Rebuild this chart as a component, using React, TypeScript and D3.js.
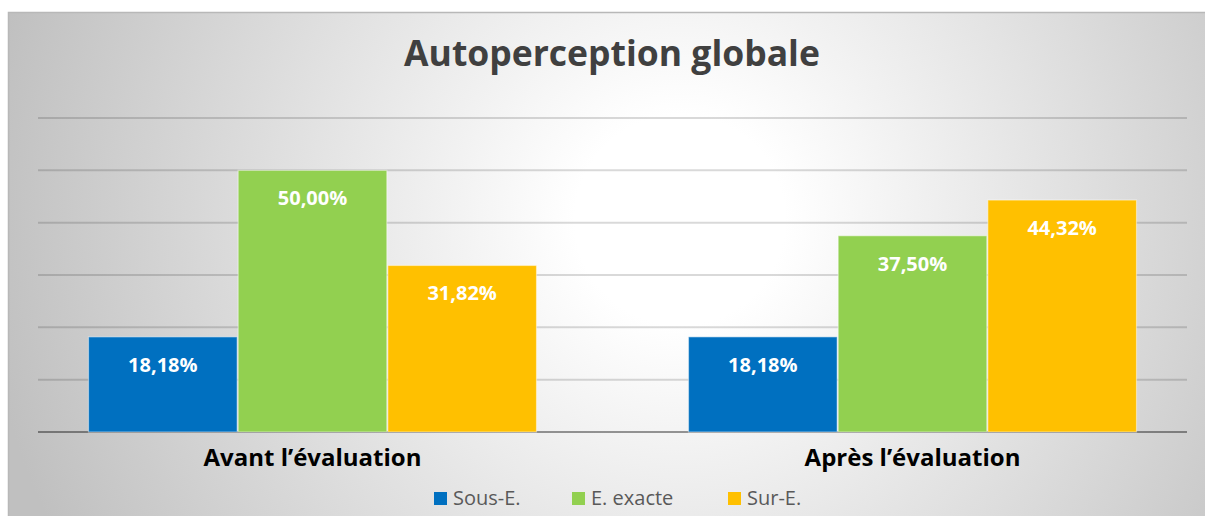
import React, { useEffect, useRef } from "react";
import * as d3 from "d3";

const categories = ["Avant l\u2019évaluation", "Après l\u2019évaluation"];
const seriesNames = ["Sous-E.", "E. exacte", "Sur-E."];
const seriesColors = ["#0070C0", "#92D050", "#FFC000"];
const sousE = [18.18, 18.18];
const eExacte = [50.0, 37.5];
const surE = [31.82, 44.32];
const yTicks = [0, 10, 20, 30, 40, 50, 60];

const W = 1205;
const H = 516;

export default function App() {
  const ref = useRef<SVGSVGElement>(null);

  useEffect(() => {
    const svg = d3.select(ref.current);
    svg.selectAll("*").remove();

    const font = "'Open Sans', 'Noto Sans', sans-serif";

    // background gradient like the office chart
    const defs = svg.append("defs");
    const grad = defs
      .append("radialGradient")
      .attr("id", "bg")
      .attr("gradientUnits", "userSpaceOnUse")
      .attr("cx", 680)
      .attr("cy", 220)
      .attr("r", 700);
    grad.append("stop").attr("offset", "0.15").attr("stop-color", "#ffffff");
    grad.append("stop").attr("offset", "1").attr("stop-color", "#c0c0c0");

    svg
      .append("rect")
      .attr("x", 8.5)
      .attr("y", 12.5)
      .attr("width", W)
      .attr("height", H)
      .attr("fill", "url(#bg)")
      .attr("stroke", "#b8b8b8")
      .attr("stroke-width", 1.5);

    const plotLeft = 38;
    const plotRight = 1187;

    const y = d3.scaleLinear().domain([0, 60]).range([432, 118]);

    const x0 = d3
      .scaleBand()
      .domain(categories)
      .range([12.5, 1212.5])
      .paddingInner(151 / 600)
      .paddingOuter(151 / 1200);

    const x1 = d3
      .scaleBand()
      .domain(seriesNames)
      .range([0, x0.bandwidth()])
      .padding(0);

    // gridlines
    svg
      .append("g")
      .selectAll("line")
      .data(yTicks)
      .enter()
      .append("line")
      .attr("x1", plotLeft)
      .attr("x2", plotRight)
      .attr("y1", (d) => y(d))
      .attr("y2", (d) => y(d))
      .attr("stroke", (d) => (d === 0 ? "rgba(0,0,0,0.4)" : "rgba(0,0,0,0.15)"))
      .attr("stroke-width", 2);

    const series = [sousE, eExacte, surE];
    const rows = categories.map((c, i) => ({
      cat: c,
      vals: seriesNames.map((s, j) => ({ name: s, value: series[j][i], color: seriesColors[j] })),
    }));

    const groups = svg
      .append("g")
      .selectAll("g")
      .data(rows)
      .enter()
      .append("g")
      .attr("transform", (d) => "translate(" + x0(d.cat) + ",0)");

    groups
      .selectAll("rect")
      .data((d) => d.vals)
      .enter()
      .append("rect")
      .attr("x", (d) => x1(d.name)! + 0.5)
      .attr("y", (d) => y(d.value))
      .attr("width", x1.bandwidth() - 1)
      .attr("height", (d) => y(0) - y(d.value))
      .attr("fill", (d) => d.color)
      .attr("stroke", "rgba(255,255,255,0.45)")
      .attr("stroke-width", 1.2);

    groups
      .selectAll("text")
      .data((d) => d.vals)
      .enter()
      .append("text")
      .attr("x", (d) => x1(d.name)! + x1.bandwidth() / 2)
      .attr("y", (d) => y(d.value) + 35)
      .attr("text-anchor", "middle")
      .attr("fill", "#ffffff")
      .style("font-family", font)
      .style("font-weight", "bold")
      .style("font-size", "20px")
      .text((d) => d3.format(".2f")(d.value).replace(".", ",") + "%");

    // category labels
    svg
      .append("g")
      .selectAll("text")
      .data(categories)
      .enter()
      .append("text")
      .attr("x", (d) => x0(d)! + x0.bandwidth() / 2)
      .attr("y", 466)
      .attr("text-anchor", "middle")
      .attr("fill", "#000000")
      .style("font-family", font)
      .style("font-weight", "bold")
      .style("font-size", "24px")
      .text((d) => d);

    // title
    svg
      .append("text")
      .attr("x", 612)
      .attr("y", 66)
      .attr("text-anchor", "middle")
      .attr("fill", "#404040")
      .style("font-family", font)
      .style("font-weight", "bold")
      .style("font-size", "35.5px")
      .text("Autoperception globale");

    // legend
    const legendX = [434, 572, 728];
    const legend = svg
      .append("g")
      .selectAll("g")
      .data(seriesNames)
      .enter()
      .append("g")
      .attr("transform", (d, i) => "translate(" + legendX[i] + ",492)");
    legend
      .append("rect")
      .attr("width", 13)
      .attr("height", 13)
      .attr("fill", (d, i) => seriesColors[i]);
    legend
      .append("text")
      .attr("x", 19)
      .attr("y", 13)
      .attr("fill", "#595959")
      .style("font-family", font)
      .style("font-size", "20px")
      .text((d) => d);
  }, []);

  return (
    <svg
      ref={ref}
      width={W}
      height={H}
      style={{ position: "absolute", left: 0, top: 0 }}
    ></svg>
  );
}
